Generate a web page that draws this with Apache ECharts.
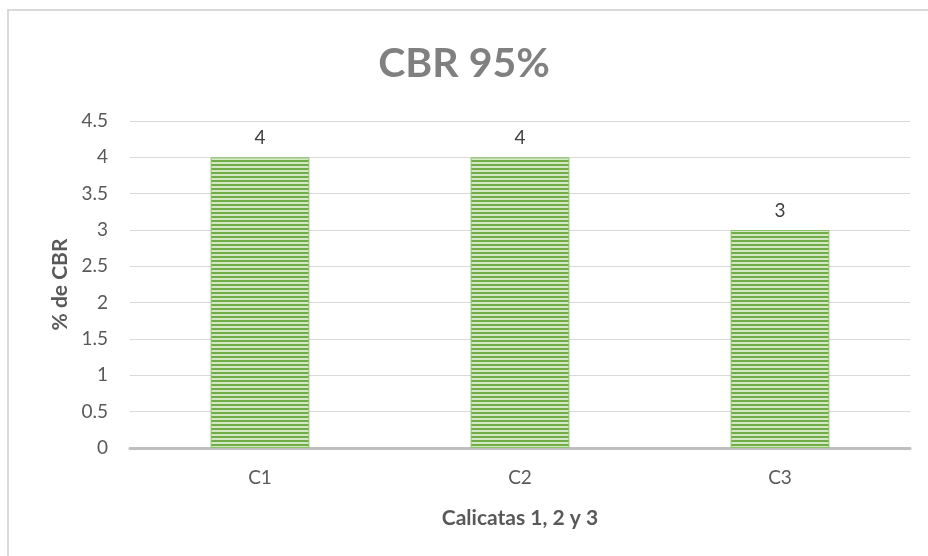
<!DOCTYPE html>
<html><head><meta charset="utf-8">
<style>html,body{margin:0;padding:0;background:#fff}#c{width:928px;height:556px}</style>
<script src="https://cdn.jsdelivr.net/npm/echarts@6/dist/echarts.min.js"></script>
</head><body><div id="c"></div>
<script>
const categories = ['C1', 'C2', 'C3'];
const cbrValues = [4, 4, 3];
const yTicks = { min: 0, max: 4.5, interval: 0.5 };
const titleText = 'CBR 95%';
const xAxisName = 'Calicatas 1, 2 y 3';
const yAxisName = '% de CBR';

const pc = document.createElement('canvas');
pc.width = 4; pc.height = 4;
const ctx = pc.getContext('2d');
ctx.fillStyle = '#d3e8c4'; ctx.fillRect(0, 0, 4, 4);
ctx.fillStyle = '#70ad47'; ctx.fillRect(0, 0, 4, 2);

const font = 'Lato, "Open Sans", sans-serif';
const chart = echarts.init(document.getElementById('c'));
chart.setOption({
  animation: false,
  textStyle: { fontFamily: font },
  title: { text: titleText, left: 'center', top: 38,
    textStyle: { fontFamily: font, fontSize: 41, fontWeight: 'bold', color: '#808080' } },
  graphic: [{ type: 'rect', shape: { x: 8, y: 10, width: 940, height: 600 },
    style: { fill: 'none', stroke: '#d9d9d9', lineWidth: 2 }, silent: true }],
  grid: { left: 130, right: 18, top: 121, bottom: 108 },
  xAxis: { type: 'category', data: categories,
    name: xAxisName, nameLocation: 'middle', nameGap: 60,
    nameTextStyle: { fontSize: 21, fontWeight: 'bold', color: '#595959', fontFamily: font },
    axisLine: { lineStyle: { color: '#bfbfbf', width: 3 } },
    axisTick: { show: false },
    axisLabel: { fontSize: 19, color: '#595959', margin: 20 } },
  yAxis: { type: 'value', min: yTicks.min, max: yTicks.max, interval: yTicks.interval,
    name: yAxisName, nameLocation: 'middle', nameGap: 58,
    nameTextStyle: { fontSize: 21, fontWeight: 'bold', color: '#595959', fontFamily: font },
    axisLine: { show: false }, axisTick: { show: false },
    splitLine: { lineStyle: { color: '#d9d9d9', width: 1 } },
    axisLabel: { fontSize: 19, color: '#595959', margin: 22 } },
  series: [{ type: 'bar', data: cbrValues, barWidth: '38%',
    itemStyle: { color: { image: pc, repeat: 'repeat' }, borderColor: '#8cc268', borderWidth: 1 },
    label: { show: true, position: 'top', distance: 10, fontSize: 19, color: '#404040' } }]
});
</script></body></html>
